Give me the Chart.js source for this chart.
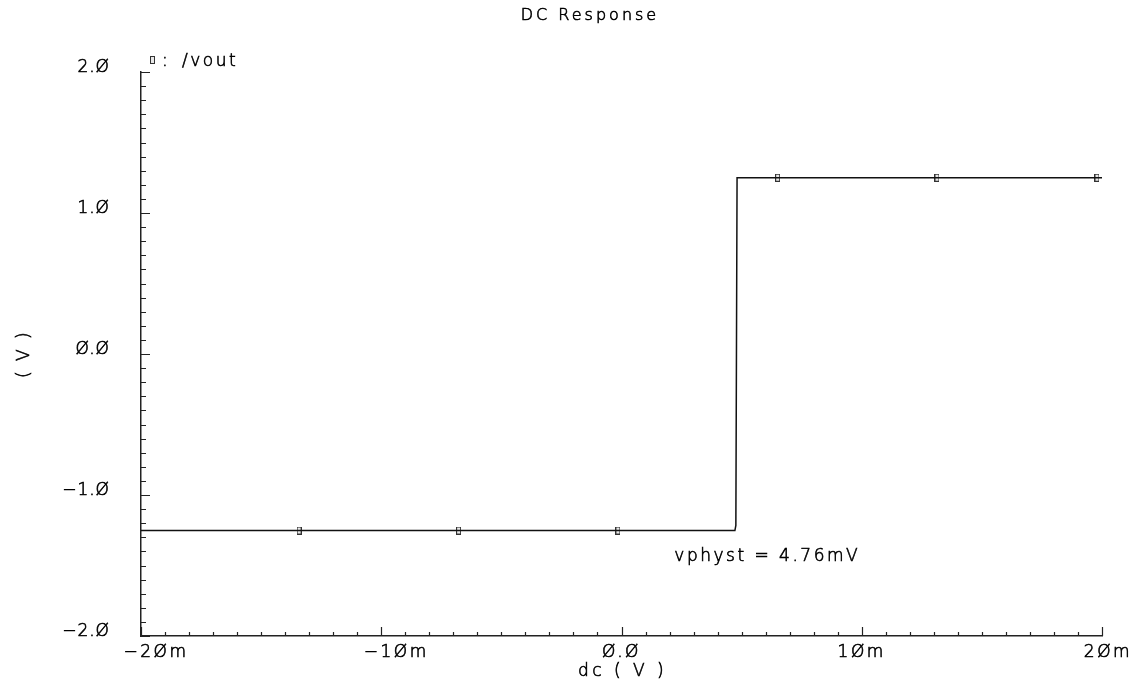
<!DOCTYPE html>
<html>
<head>
<meta charset="utf-8">
<script src="https://cdn.jsdelivr.net/npm/chart.js@4"></script>
<style>
  body { margin: 0; background: #fff; }
  canvas { display: block; }
</style>
</head>
<body>
<canvas id="dcChart" width="1140" height="687"></canvas>
<script>
const chartTitle = "DC Response";
const seriesName = "/vout";
const xTitle = "dc ( V )";
const yTitle = "( V )";
const xTickValues = [-0.02, -0.01, 0, 0.01, 0.02];
const yTickValues = [-2, -1, 0, 1, 2];
// /vout trace (x in volts)
const voutX = [-0.02, 0.00472, 0.00476, 0.00481, 0.02];
const voutY = [-1.252, -1.252, -1.215, 1.25, 1.25];
// trace markers
const markerX = [-0.01342, -0.00678, -0.00015, 0.0065, 0.01313, 0.01979];
const markerY = [-1.252, -1.252, -1.252, 1.25, 1.25, 1.25];
const annotationText = "vphyst = 4.76mV";
const annotationAt = [0.0022, -1.44];

const FONT = "'DejaVu Sans', 'Liberation Sans', sans-serif";
const WEIGHT = 200;
const INK = "#000";

// slashed zeros and long minus like the original plot
function styleNum(s) {
    return s.replace(/-/g, "\u2212").replace(/0/g, "\u00D8");
}

function fmtX(v) {
    if (Math.abs(v) < 1e-12) return styleNum("0.0");
    return styleNum(Math.round(v * 1000) + "m");
}

function fmtY(v) {
    return styleNum(v.toFixed(1));
}

// small hollow box used as the trace marker
const markerImg = (() => {
    const c = document.createElement("canvas");
    c.width = 5;
    c.height = 8;
    const g = c.getContext("2d");
    g.fillStyle = "#e8e8e8";
    g.fillRect(1, 1, 3, 6);
    g.strokeStyle = "#333";
    g.lineWidth = 1;
    g.strokeRect(0.5, 0.5, 4, 7);
    return c;
})();

function ink(ctx, text, x, y) {
    ctx.fillText(text, x, y);
    ctx.strokeText(text, x, y);
}

const extras = {
    id: "extras",
    beforeUpdate(chart) { chart.ctx.letterSpacing = "1px"; },
    beforeDraw(chart) { chart.ctx.letterSpacing = "1px"; },
    afterDraw(chart) {
        const ctx = chart.ctx;
        const area = chart.chartArea;
        const xs = chart.scales.x;
        const ys = chart.scales.y;
        ctx.save();
        ctx.strokeStyle = "#222";
        ctx.lineWidth = 1.2;
        ctx.beginPath();
        // y ticks every 0.1, pointing into the plot
        for (let i = -20; i <= 20; i++) {
            const py = Math.round(ys.getPixelForValue(i / 10)) + 0.5;
            const len = i % 10 === 0 ? 9 : 5;
            ctx.moveTo(area.left, py);
            ctx.lineTo(area.left + len, py);
        }
        // x ticks every 1m
        for (let i = -20; i <= 20; i++) {
            const px = Math.round(xs.getPixelForValue(i / 1000)) + 0.5;
            const len = i % 10 === 0 ? 9 : 4;
            ctx.moveTo(px, area.bottom);
            ctx.lineTo(px, area.bottom - len);
        }
        ctx.stroke();

        ctx.fillStyle = INK;
        ctx.strokeStyle = INK;
        ctx.lineWidth = 0.6;
        ctx.textBaseline = "middle";

        // x tick labels: the sign hangs to the left of the centred number
        ctx.font = WEIGHT + " 17px " + FONT;
        ctx.letterSpacing = "2.5px";
        ctx.textAlign = "center";
        xTickValues.forEach(v => {
            let px = xs.getPixelForValue(v);
            if (v < 0) px += 15;
            if (v === xs.max) px += 6;
            ink(ctx, fmtX(v), px, area.bottom + 17);
        });

        // axis titles
        ctx.letterSpacing = "3.5px";
        ink(ctx, xTitle, (area.left + area.right) / 2 + 1, 672);
        ctx.save();
        ctx.translate(25, (area.top + area.bottom) / 2);
        ctx.rotate(-Math.PI / 2);
        ctx.letterSpacing = "2.5px";
        ink(ctx, yTitle, 0, 0);
        ctx.restore();

        ctx.letterSpacing = "3px";
        ctx.font = WEIGHT + " 16px " + FONT;
        ink(ctx, chartTitle, 590, 16);

        // legend
        ctx.drawImage(markerImg, area.left + 9, area.top - 16);
        ctx.font = WEIGHT + " 17px " + FONT;
        ctx.textAlign = "left";
        ctx.letterSpacing = "2.5px";
        ink(ctx, ":", area.left + 21, area.top - 10);
        ink(ctx, seriesName, area.left + 41, area.top - 10);

        // annotation
        ink(ctx, annotationText,
            xs.getPixelForValue(annotationAt[0]),
            ys.getPixelForValue(annotationAt[1]));
        ctx.restore();
    }
};

new Chart(document.getElementById("dcChart"), {
    type: "scatter",
    data: {
        datasets: [{
            label: seriesName,
            data: voutX.map((x, i) => ({ x: x, y: voutY[i] })),
            showLine: true,
            borderColor: "#111",
            borderWidth: 1.5,
            pointRadius: 0,
            tension: 0
        }, {
            label: seriesName + " markers",
            data: markerX.map((x, i) => ({ x: x, y: markerY[i] })),
            showLine: false,
            pointStyle: markerImg,
            pointRadius: 4
        }]
    },
    options: {
        responsive: false,
        animation: false,
        layout: { padding: { top: 72, right: 38, left: 0, bottom: 0 } },
        plugins: { legend: { display: false }, tooltip: { enabled: false } },
        scales: {
            x: {
                type: "linear",
                min: -0.02,
                max: 0.02,
                afterBuildTicks: s => { s.ticks = xTickValues.map(v => ({ value: v })); },
                afterFit: s => { s.height = 51; },
                ticks: { display: false },
                grid: { drawOnChartArea: false, drawTicks: false },
                border: { color: "#222", width: 1.5 },
                title: { display: false }
            },
            y: {
                type: "linear",
                min: -2,
                max: 2,
                afterBuildTicks: s => { s.ticks = yTickValues.map(v => ({ value: v })); },
                afterFit: s => { s.width = 141; },
                ticks: {
                    callback: v => fmtY(v),
                    color: INK,
                    textStrokeColor: INK,
                    textStrokeWidth: 0.6,
                    font: { family: FONT, size: 17, weight: WEIGHT },
                    padding: 31,
                    labelOffset: -4,
                    autoSkip: false
                },
                grid: { drawOnChartArea: false, drawTicks: false },
                border: { color: "#222", width: 1.5 },
                title: { display: false }
            }
        }
    },
    plugins: [extras]
});
</script>
</body>
</html>
